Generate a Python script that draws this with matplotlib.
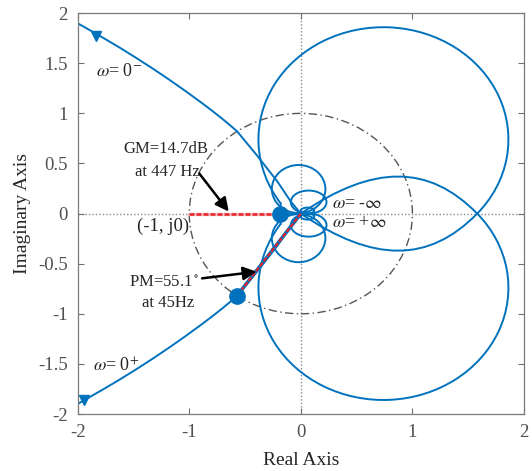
import numpy as np
import matplotlib
matplotlib.use("Agg")
import matplotlib.pyplot as plt
from matplotlib.patches import Arc, Ellipse, Circle, PathPatch
from matplotlib.path import Path

plt.rcParams["font.family"] = ["Liberation Serif", "DejaVu Serif"]
plt.rcParams["mathtext.fontset"] = "stix"

# ---- data -------------------------------------------------------------
# low-frequency branch of L(jw) for w = 0+ ... (real / imaginary parts)
branch_re = [-2.06, -1.944, -1.77, -1.62, -1.47, -1.32, -1.18, -1.03, -0.88,
             -0.79, -0.705, -0.64, -0.572, -0.40, -0.21, -0.09, 0.0]
branch_im = [-1.937, -1.864, -1.753, -1.654, -1.550, -1.442, -1.337, -1.220, -1.098,
             -1.022, -0.947, -0.887, -0.822, -0.59, -0.32, -0.12, 0.0]

# resonant loop: circle part (centre / radius) ending near the GM crossing
loop_center = (0.74, 0.74)
loop_radius = 1.12
loop_tail_re = [-0.18, -0.184, 0.0]
loop_tail_im = [0.10, 0.0, 0.0]

# high-frequency lobe returning to the origin (w -> +inf), Bezier anchors
lobe_re = [1.58, 1.146, 0.65, 0.0]
lobe_im = [0.0, -0.493, -0.493, 0.0]

# small loops around the origin: centre re, centre im, width, height
small_loops = [
    (-0.02, 0.245, 0.48, 0.48),
    (0.07, 0.115, 0.32, 0.23),
    (0.06, 0.03, 0.12, 0.06),
]

# stability margins
gm_db, gm_freq = 14.7, 447
pm_deg, pm_freq = 55.1, 45
gm_point = (-10 ** (-gm_db / 20), 0.0)
pm_point = (-np.cos(np.radians(pm_deg)), -np.sin(np.radians(pm_deg)))

xticks = [-2, -1, 0, 1, 2]
yticks = [-2, -1.5, -1, -0.5, 0, 0.5, 1, 1.5, 2]
ytick_labels = ["-2", "-1.5", "-1", "-0.5", "0", "0.5", "1", "1.5", "2"]

# ---- figure -----------------------------------------------------------
blue = "#0072BD"
fig = plt.figure(figsize=(5.32, 4.71), dpi=100)
ax = fig.add_axes([0.146, 0.121, 0.839, 0.851])
ax.set_xlim(-2, 2)
ax.set_ylim(-2, 2)

ax.axhline(0, color="#8a8a8a", ls=(0, (1, 1.5)), lw=1.0, zorder=0.5)
ax.axvline(0, color="#8a8a8a", ls=(0, (1, 1.5)), lw=1.0, zorder=0.5)

# unit circle
ax.add_patch(Circle((0, 0), 1.0, fill=False, ec="#555555", lw=1.0,
                    ls=(0, (6, 2.5, 1, 2.5)), zorder=1))

lw = 1.4
br_re = np.array(branch_re)
br_im = np.array(branch_im)
for sgn in (1, -1):
    ax.plot(br_re, sgn * br_im, color=blue, lw=lw, zorder=2)
    ax.plot(loop_tail_re, sgn * np.array(loop_tail_im), color=blue, lw=lw, zorder=2)

    cx, cy = loop_center
    th_axis = np.degrees(np.arcsin(-cy / loop_radius))
    th_tail = 180 + np.degrees(np.arcsin((cy - loop_tail_im[0]) / loop_radius))
    if sgn == 1:
        t1, t2 = th_axis, th_tail
    else:
        t1, t2 = -th_tail, -th_axis
    ax.add_patch(Arc((cx, sgn * cy), 2 * loop_radius, 2 * loop_radius,
                     theta1=t1, theta2=t2, color=blue, lw=lw, zorder=2))

    verts = list(zip(lobe_re, [sgn * v for v in lobe_im]))
    codes = [Path.MOVETO, Path.CURVE4, Path.CURVE4, Path.CURVE4]
    ax.add_patch(PathPatch(Path(verts, codes), fill=False, ec=blue, lw=lw, zorder=2))

    for (ex, ey, w, h) in small_loops:
        ax.add_patch(Ellipse((ex, sgn * ey), w, h, fill=False, ec=blue, lw=lw, zorder=2))

# direction arrows on the branches
ax.plot(branch_re[1], branch_im[1], marker="v", ms=7, color=blue, zorder=3)
ax.plot(-1.84, 1.775, marker="v", ms=7, color=blue, zorder=3)

# gain margin line
ax.plot([-1, gm_point[0]], [0, 0], color="#f6c4c4", lw=2.4, zorder=3)
ax.plot([-1, gm_point[0]], [0, 0], color="#e8202a", lw=1.8, ls=(0, (2, 0.8)), zorder=3)
# phase margin line
ax.plot([0, pm_point[0]], [0, pm_point[1]], color=blue, lw=2.6, zorder=3)
ax.plot([0, pm_point[0]], [0, pm_point[1]], color="#e8202a", lw=1.6, ls=(0, (2, 0.8)), zorder=3)

ax.plot(*gm_point, "o", ms=11, color=blue, zorder=4)
ax.plot(*pm_point, "o", ms=11, color=blue, zorder=4)

# annotations
fs = 12
tc = "#262626"
ax.text(-1.21, 0.64, f"GM={gm_db}dB", ha="center", va="center", fontsize=fs, color=tc)
ax.text(-1.20, 0.42, f"at {gm_freq} Hz", ha="center", va="center", fontsize=fs, color=tc)
ax.annotate("", xy=(-0.646, 0.02), xytext=(-0.91, 0.40),
            arrowprops=dict(arrowstyle="-|>", color="k", lw=1.8, mutation_scale=20,
                            shrinkA=0, shrinkB=0), zorder=5)
ax.text(-1.23, -0.69, f"PM={pm_deg}$^\\circ$", ha="center", va="center", fontsize=fs, color=tc)
ax.text(-1.19, -0.895, f"at {pm_freq}Hz", ha="center", va="center", fontsize=fs, color=tc)
ax.annotate("", xy=(-0.396, -0.58), xytext=(-0.885, -0.646),
            arrowprops=dict(arrowstyle="-|>", color="k", lw=1.8, mutation_scale=20,
                            shrinkA=0, shrinkB=0), zorder=5)
ax.text(-1.0, -0.13, "(-1, j0)", ha="right", va="center", fontsize=13.5, color=tc)

fo = 13
ax.text(-1.84, 1.42, r"$\omega$= 0$^{-}$", ha="left", va="center", fontsize=fo, color=tc)
ax.text(-1.86, -1.52, r"$\omega$= 0$^{+}$", ha="left", va="center", fontsize=fo, color=tc)
ax.text(0.28, 0.105, r"$\omega$= -$\infty$", ha="left", va="center", fontsize=fo, color=tc)
ax.text(0.28, -0.085, r"$\omega$= +$\infty$", ha="left", va="center", fontsize=fo, color=tc)

# axes styling
ax.set_xticks(xticks)
ax.set_xticklabels([str(t) for t in xticks])
ax.set_yticks(yticks)
ax.set_yticklabels(ytick_labels)
ax.tick_params(direction="in", top=True, right=True, length=4, width=0.8,
               colors="#6e6e6e", labelcolor="#505050", labelsize=13.5, pad=7)
for sp in ax.spines.values():
    sp.set_color("#7a7a7a")
    sp.set_linewidth(0.9)
ax.set_xlabel("Real Axis", fontsize=14, color=tc)
ax.set_ylabel("Imaginary Axis", fontsize=14, color=tc)
ax.xaxis.set_label_coords(0.5, -0.095)
ax.yaxis.set_label_coords(-0.105, 0.5)

fig.savefig("out.png", dpi=100)
